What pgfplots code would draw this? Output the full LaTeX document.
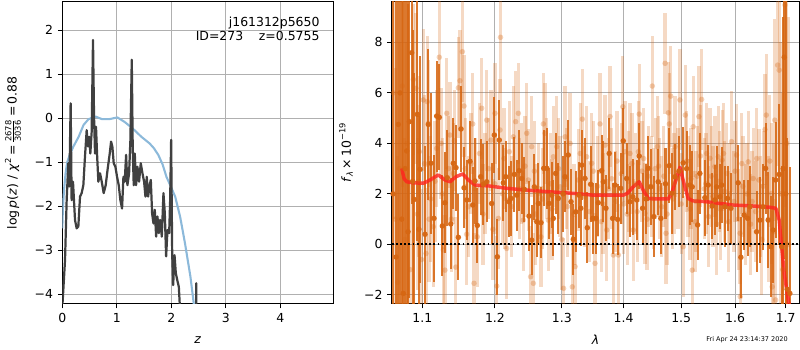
\documentclass[border=0pt]{standalone}
\usepackage{fontspec}
\setmainfont{DejaVu Sans}
\usepackage{amsmath}
\usepackage{pgfplots}
\usepackage{pgfplotstable}
\pgfplotsset{compat=1.18}
\definecolor{dgray}{RGB}{64,64,64}
\definecolor{lblue}{RGB}{140,185,218}
\definecolor{dor}{RGB}{214,102,18}
\definecolor{mred}{RGB}{255,35,30}
\definecolor{gridc}{RGB}{176,176,176}

\pgfplotstableread{
x y e
1.0621 2.0 12
1.0660 -0.5 12
1.0688 4.75 12
1.0710 6.0 12
1.0732 1.0 12
1.0752 -1.94 12
1.0775 3.0 12
1.0796 3.70 10
1.0813 0.5 9
1.0830 4.86 7
1.0861 7.59 6
1.0874 2.5 6
1.0895 1.78 5
1.0934 5.15 5
1.0955 0.6 4.5
1.0970 2.97 4.5
1.1036 0.40 3.5
1.1079 4.75 3
1.1115 3.21 2.8
1.1155 1.03 2.5
1.1191 5.08 2.2
1.1226 5.03 2.1
1.1267 0.73 2.0
1.1303 1.65 2.0
1.1334 2.64 1.9
1.1381 0.81 1.8
1.1416 3.21 1.8
1.1453 3.04 1.7
1.1485 0.28 1.7
1.1522 4.57 1.7
1.1564 2.24 1.6
1.1602 1.76 1.6
1.1647 3.29 1.6
1.1685 1.56 1.5
1.1717 2.51 1.7
1.1749 0.75 1.5
1.1797 2.68 1.5
1.1834 2.38 1.6
1.1882 2.48 1.6
1.1953 1.62 1.6
1.1991 4.33 1.5
1.2034 -0.49 1.5
1.2063 4.13 1.6
1.2121 2.44 1.5
1.2156 2.68 1.4
1.2204 1.69 1.4
1.2233 1.82 1.5
1.2282 2.77 1.5
1.2317 1.95 1.4
1.2351 2.92 1.6
1.2391 2.61 1.4
1.2430 2.18 1.3
1.2500 1.12 1.4
1.2540 0.17 1.4
1.2580 2.28 1.3
1.2616 0.90 1.4
1.2640 1.62 1.6
1.2681 0.86 1.4
1.2722 3.01 1.5
1.2768 3.01 1.6
1.2803 1.62 1.4
1.2845 1.95 1.3
1.2869 1.03 1.5
1.2906 2.81 1.6
1.2946 1.82 1.4
1.3020 2.00 1.5
1.3051 2.68 1.4
1.3102 3.54 1.4
1.3145 1.69 1.3
1.3181 0.20 1.4
1.3219 1.29 1.6
1.3271 1.95 1.3
1.3300 1.43 1.5
1.3314 3.14 1.4
1.3367 2.61 1.6
1.3404 0.66 1.4
1.3458 2.38 1.5
1.3491 1.03 1.4
1.3544 1.03 1.4
1.3581 1.65 1.3
1.3637 2.92 1.4
1.3663 2.48 1.6
1.3707 1.43 1.3
1.3761 3.60 1.4
1.3817 1.03 1.4
1.3855 2.35 1.3
1.3900 0.99 1.4
1.3950 2.22 1.4
1.3994 4.10 1.3
1.4051 2.61 1.4
1.4106 1.69 1.4
1.4152 1.89 1.5
1.4220 1.76 1.6
1.4264 3.50 1.3
1.4322 1.43 1.4
1.4380 1.80 1.4
1.4419 3.01 1.3
1.4460 2.28 1.5
1.4517 1.10 1.6
1.4592 2.48 1.3
1.4639 1.03 1.4
1.4720 2.40 1.4
1.4786 3.12 1.5
1.4834 2.02 1.6
1.4887 2.68 1.3
1.4960 2.90 1.4
1.5036 3.23 1.4
1.5097 3.00 1.5
1.5157 2.35 1.6
1.5199 2.28 1.4
1.5298 0.77 1.4
1.5340 2.81 1.6
1.5432 1.85 1.5
1.5493 2.35 1.6
1.5568 1.52 1.3
1.5618 1.76 1.4
1.5650 2.28 1.6
1.5712 1.89 1.3
1.5744 2.35 1.5
1.5806 1.49 1.6
1.5857 1.82 1.3
1.5920 1.43 1.4
1.6060 2.44 1.5
1.6112 -0.51 1.6
1.6176 1.16 1.4
1.6242 1.03 1.5
1.6287 1.49 1.6
1.6418 0.50 1.6
1.6483 0.96 1.7
1.6548 1.49 1.7
1.6596 3.01 1.8
1.6648 0.96 1.9
1.6702 -0.09 2.0
1.6748 0.57 2.1
1.6796 2.55 2.3
1.6869 2.77 2.8
1.6917 -0.09 3.2
1.6950 3.0 6
1.6970 7.41 8
1.7000 2.0 9
1.7031 -1.78 6
1.7086 -1.94 5
}\darkdata

\pgfplotstableread{
x y e
1.0625 6.0 5
1.0650 1.0 6
1.0680 -1.5 5
1.0700 3.0 5
1.0740 6.27 4
1.0770 0.2 4
1.0800 4.0 4
1.0840 -1.0 3.5
1.0882 6.53 3
1.0917 6.18 3
1.0935 1.2 3
1.0950 2.5 3
1.0961 3.67 3
1.0990 -0.6 2.8
1.1013 5.72 2.8
1.1030 3.2 2.7
1.1049 -0.36 2.6
1.1066 5.65 2.6
1.1079 4.79 2.5
1.1090 1.0 2.5
1.1110 1.8 2.5
1.1146 0.70 2.4
1.1170 2.5 2.4
1.1190 3.8 2.3
1.1226 7.41 2.3
1.1250 4.0 2.2
1.1270 2.0 2.2
1.1280 -0.22 2.2
1.1303 -1.02 2.2
1.1326 5.19 2.2
1.1350 3.0 2.1
1.1371 4.33 2.1
1.1390 1.0 2.1
1.1416 2.81 2.0
1.1430 4.1 2.0
1.1450 -0.9 2.0
1.1485 6.20 2.0
1.1507 6.48 2.0
1.1540 7.63 2.0
1.1564 5.48 2.0
1.1580 3.0 2.0
1.1600 0.4 2.0
1.1624 1.49 2.0
1.1660 3.2 2.0
1.1685 4.77 2.0
1.1703 -1.54 2.0
1.1720 2.2 2.0
1.1749 0.30 2.0
1.1780 3.6 2.0
1.1811 5.39 2.0
1.1830 1.2 2.0
1.1858 2.42 2.0
1.1882 4.92 2.0
1.1910 3.0 2.0
1.1943 4.13 2.0
1.1970 0.6 2.0
1.2000 2.4 2.0
1.2001 5.19 2.0
1.2026 -1.65 2.0
1.2049 1.03 2.0
1.2073 4.53 2.0
1.2080 8.2 2.2
1.2110 2.0 2.0
1.2130 3.4 2.0
1.2146 1.82 2.0
1.2170 -0.16 2.0
1.2208 3.67 2.0
1.2240 1.5 2.0
1.2267 4.26 2.0
1.2301 4.86 2.0
1.2341 5.19 2.0
1.2360 2.2 2.0
1.2391 2.81 2.0
1.2415 0.96 2.0
1.2440 3.1 2.0
1.2465 4.40 2.0
1.2490 2.55 2.0
1.2524 -1.28 2.0
1.2540 3.87 2.0
1.2565 -1.54 2.0
1.2580 2.9 2.0
1.2600 1.2 2.0
1.2640 2.02 2.0
1.2680 0.3 2.0
1.2700 1.8 2.0
1.2716 4.77 2.0
1.2742 4.40 2.0
1.2768 3.01 2.0
1.2792 0.96 2.0
1.2830 2.4 2.0
1.2850 1.4 2.0
1.2869 3.47 2.0
1.2922 3.87 2.0
1.2950 3.0 2.0
1.2973 2.28 2.0
1.3000 0.2 2.0
1.3028 -1.74 2.0
1.3051 4.26 2.0
1.3070 2.6 2.0
1.3090 1.5 2.0
1.3130 4.0 2.0
1.3165 -1.68 2.0
1.3190 1.2 2.0
1.3209 -0.88 2.0
1.3260 2.55 2.0
1.3290 3.6 2.0
1.3324 4.96 2.0
1.3360 1.9 2.0
1.3394 3.47 2.0
1.3440 1.3 2.0
1.3475 3.21 2.0
1.3500 2.9 2.0
1.3528 -0.75 2.0
1.3570 2.3 2.0
1.3610 4.77 2.0
1.3630 0.9 2.0
1.3660 1.6 2.0
1.3692 3.93 2.0
1.3720 0.57 2.0
1.3750 2.2 2.0
1.3774 5.06 2.0
1.3800 2.6 2.0
1.3829 -0.42 2.0
1.3870 1.7 2.0
1.3890 3.3 2.0
1.3912 -0.42 2.0
1.3960 2.8 2.0
1.3986 5.45 2.0
1.4000 1.6 2.0
1.4024 3.67 2.0
1.4060 1.2 2.0
1.4080 2.5 2.0
1.4108 3.60 2.0
1.4140 3.2 2.0
1.4162 0.57 2.0
1.4200 2.4 2.0
1.4230 1.3 2.0
1.4249 3.67 2.0
1.4264 5.16 2.0
1.4310 2.9 2.0
1.4340 3.4 2.0
1.4363 1.23 2.0
1.4400 1.0 2.0
1.4420 2.7 2.0
1.4470 2.3 2.0
1.4490 6.27 2.0
1.4507 1.82 2.0
1.4540 3.0 2.0
1.4577 3.87 2.0
1.4600 3.1 2.0
1.4620 2.2 2.0
1.4654 1.49 2.0
1.4690 2.7 2.0
1.4713 7.17 2.0
1.4730 0.44 2.0
1.4750 1.2 2.0
1.4770 5.21 2.0
1.4788 4.77 2.0
1.4813 5.87 2.0
1.4850 1.8 2.0
1.4870 2.4 2.0
1.4890 3.87 2.0
1.4940 2.6 2.0
1.4977 5.72 2.0
1.5000 1.6 2.0
1.5037 -0.09 2.0
1.5074 5.12 2.0
1.5100 3.3 2.0
1.5120 2.3 2.0
1.5160 1.4 2.0
1.5180 2.6 2.0
1.5199 -1.02 2.0
1.5217 4.66 2.0
1.5249 0.90 2.0
1.5270 1.7 2.0
1.5290 2.7 2.0
1.5322 5.06 2.0
1.5350 3.5 2.0
1.5372 5.74 2.0
1.5420 2.2 2.0
1.5450 2.4 2.0
1.5464 3.60 2.0
1.5500 1.1 2.0
1.5526 3.41 2.0
1.5550 2.7 2.0
1.5580 1.9 2.0
1.5618 3.08 2.0
1.5650 0.8 2.0
1.5680 3.47 2.0
1.5700 2.5 2.0
1.5720 1.4 2.0
1.5755 3.34 2.0
1.5780 3.6 2.0
1.5800 2.1 2.0
1.5838 2.81 2.0
1.5880 0.9 2.0
1.5900 2.0 2.0
1.5933 4.07 2.0
1.5980 1.7 2.0
1.6000 2.9 2.0
1.6029 3.54 2.0
1.6060 1.0 2.0
1.6095 0.44 2.0
1.6100 -2.07 2.2
1.6130 3.2 2.0
1.6150 2.3 2.0
1.6200 1.2 2.0
1.6230 2.0 2.0
1.6255 3.27 2.0
1.6300 0.8 2.0
1.6330 1.7 2.0
1.6351 2.61 2.0
1.6400 1.3 2.0
1.6420 3.4 2.0
1.6464 2.55 2.0
1.6490 1.5 2.0
1.6520 0.2 2.2
1.6550 2.3 2.2
1.6583 4.55 2.2
1.6610 5.12 2.4
1.6650 1.0 2.5
1.6680 3.3 2.6
1.6717 2.02 2.8
1.6727 -1.68 3
1.6760 0.5 3.5
1.6780 4.92 4
1.6796 -2.2 4
1.6837 7.10 4
1.6869 6.90 5
1.6900 2.0 6
1.6940 -1.0 7
1.6987 9.48 8
1.7020 4.0 9
1.7060 0.0 9
}\lightdata

\pgfplotsset{mpl/.style={
  scale only axis,
  axis line style={black, line width=0.72bp},
  grid=major,
  grid style={gridc, line width=0.72bp},
  tick align=outside,
  major tick length=3.15bp,
  tick style={black, line width=0.72bp},
  xtick pos=left, ytick pos=left,
  minor tick num=0,
  ticklabel style={font=\fontsize{9}{10}\selectfont},
  label style={font=\fontsize{9}{10}\selectfont},
}}

\begin{document}
\begin{tikzpicture}
\path[use as bounding box] (0,0) rectangle (8in,3.5in);

\begin{axis}[mpl,
  at={(0.623in,0.46in)}, anchor=south west,
  width=2.71in, height=3.023in,
  xmin=0, xmax=4.97, ymin=-4.22, ymax=2.65,
  xtick={0,1,2,3,4}, xticklabels={0,1,2,3,4},
  ytick={-4,-3,-2,-1,0,1,2}, yticklabels={−4,−3,−2,−1,0,1,2},
  xlabel={\textit{z}},
  xlabel style={at={(axis description cs:0.5,-0.119)}, anchor=center},
  ylabel={log\,\textit{p}(\textit{z}) / \textit{χ}\textsuperscript{2}\,=\,$\frac{\text{2678}}{\text{3036}}$\,=\,0.88},
  ylabel style={at={(axis description cs:-0.182,0.5)}, anchor=center},
]
\addplot[lblue, line width=1.5bp, line join=round] coordinates {
(0,-2.5) (0.01,-2.1) (0.03,-1.65) (0.06,-1.25) (0.09,-1.0) (0.13,-0.85) (0.2,-0.65) (0.3,-0.42) (0.39,-0.15) (0.48,-0.02) (0.61,0.04) (0.73,-0.02) (0.86,-0.02) (1.01,0.02) (1.14,-0.08) (1.29,-0.23) (1.45,-0.42) (1.6,-0.57) (1.68,-0.68) (1.76,-0.83) (1.84,-1.05) (1.91,-1.33) (1.99,-1.55) (2.07,-1.78) (2.16,-2.23) (2.25,-2.84) (2.35,-3.6) (2.41,-4.2) (2.45,-4.6)
};
\addplot[dgray, line width=1.6bp, line join=round] coordinates {
(0,-4.3) (0.05,-3.22) (0.08,-1.86) (0.11,-1.02) (0.129,-1.55) (0.153,0.34) (0.171,-1.86) (0.196,-1.44) (0.233,-2.31) (0.263,-2.5) (0.294,-2.46) (0.325,-1.78) (0.355,-1.70) (0.386,-1.52) (0.416,-0.87) (0.447,-0.27) (0.472,-0.64) (0.496,-0.42) (0.514,-0.80) (0.539,-0.30) (0.563,1.78) (0.582,0.04) (0.600,-0.80) (0.618,-0.19) (0.637,-0.80) (0.661,-1.44) (0.692,-1.25) (0.723,-1.44) (0.759,-1.70) (0.796,-1.52) (0.833,-1.14) (0.870,-0.80) (0.894,-0.53) (0.918,-0.64) (0.943,-1.02) (0.974,-1.10) (1.004,-1.33) (1.035,-1.52) (1.065,-1.86) (1.096,-2.05) (1.121,-1.33) (1.145,-1.44) (1.170,-0.83) (1.194,-1.52) (1.225,-1.25) (1.249,-0.49) (1.274,1.33) (1.292,-0.72) (1.310,-1.52) (1.329,-0.80) (1.353,-1.52) (1.378,-1.10) (1.408,-1.44) (1.439,-1.02) (1.470,-1.25) (1.500,-1.44) (1.525,-1.78) (1.549,-1.33) (1.574,-1.78) (1.598,-1.55) (1.623,-1.40) (1.647,-2.16) (1.672,-2.39) (1.696,-2.08) (1.721,-2.69) (1.745,-2.23) (1.770,-2.61) (1.794,-2.31) (1.825,-2.69) (1.855,-1.70) (1.880,-2.16) (1.904,-3.14) (1.929,-2.54) (1.960,-2.61) (1.978,-1.86) (1.996,-0.49) (2.015,-3.07) (2.033,-3.79) (2.058,-3.11) (2.082,-3.52) (2.107,-3.67) (2.137,-3.83) (2.17,-4.6) (2.3,-6) (2.45,-6) (2.456,-3.75) (2.462,-6)
};
\node[anchor=north east, align=right, inner sep=0pt, font=\fontsize{9}{9.9}\selectfont] at (rel axis cs:0.95,0.95) {j161312p5650\\ID=273\hspace{11.3bp}z=0.5755};
\end{axis}

\begin{axis}[mpl,
  at={(3.917in,0.46in)}, anchor=south west,
  width=4.076in, height=3.023in,
  xmode=log,
  xmin=1.0604, xmax=1.728, ymin=-2.36, ymax=9.61,
  xtick={1.1,1.2,1.3,1.4,1.5,1.6,1.7}, xticklabels={1.1,1.2,1.3,1.4,1.5,1.6,1.7},
  minor xtick={},
  ytick={-2,0,2,4,6,8}, yticklabels={−2,0,2,4,6,8},
  xlabel={\textit{λ}},
  xlabel style={at={(axis description cs:0.5,-0.119)}, anchor=center},
  ylabel={\textit{f}\textsubscript{\textit{λ}}\,×\,10\textsuperscript{−19}},
  ylabel style={at={(axis description cs:-0.112,0.5)}, anchor=center},
]
\addplot[only marks, draw=none, mark=*, mark size=2.0bp,
  mark options={draw opacity=0, fill=dor, fill opacity=0.3},
  error bars/.cd, y dir=both, y explicit, error mark=none,
  error bar style={line width=2.4bp, draw=dor, draw opacity=0.25}]
  table[x=x, y=y, y error=e] {\lightdata};
\addplot[only marks, draw=none, mark=*, mark size=2.0bp,
  mark options={draw opacity=0, fill=dor, fill opacity=0.95},
  error bars/.cd, y dir=both, y explicit, error mark=none,
  error bar style={line width=1.5bp, draw=dor, draw opacity=0.88}]
  table[x=x, y=y, y error=e] {\darkdata};
\addplot[mred, opacity=0.8, line width=2.5bp, line join=round] coordinates {
(1.0732,3.01) (1.0762,2.61) (1.0796,2.48) (1.0882,2.44) (1.1013,2.42) (1.1102,2.55) (1.1213,2.75) (1.1303,2.55) (1.1371,2.48) (1.1453,2.68) (1.1545,2.79) (1.1624,2.55) (1.1717,2.35) (1.1929,2.31) (1.2170,2.22) (1.2465,2.15) (1.2768,2.09) (1.3181,2.02) (1.3500,1.95) (1.3994,1.95) (1.4061,2.02) (1.4162,2.28) (1.4264,2.48) (1.4344,2.09) (1.4419,1.82) (1.4535,1.80) (1.4770,1.80) (1.4828,2.02) (1.4905,2.55) (1.4977,3.05) (1.5049,2.42) (1.5126,1.82) (1.5217,1.72) (1.5464,1.69) (1.5712,1.62) (1.5964,1.56) (1.6351,1.52) (1.6682,1.47) (1.6802,1.43) (1.6869,0.96) (1.6917,-0.09) (1.6970,-1.15) (1.7031,-1.94) (1.7072,-2.4)
};
\addplot[black, line width=1.4bp, dash pattern=on 1.4bp off 1.6bp] coordinates {(1.0604,0) (1.728,0)};
\end{axis}

\node[anchor=east, inner sep=0pt, font=\fontsize{4.7}{5}\selectfont] at (7.88in,0.10in) {Fri Apr 24 23:14:37 2020};
\end{tikzpicture}
\end{document}
